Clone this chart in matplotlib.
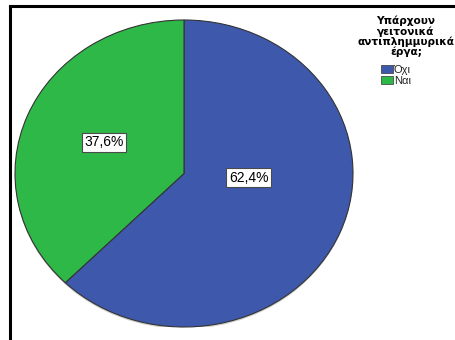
import matplotlib
matplotlib.use("Agg")
import matplotlib.pyplot as plt
from matplotlib.patches import Patch, Ellipse
from matplotlib.lines import Line2D

plt.rcParams['font.family'] = ['Liberation Sans', 'DejaVu Sans']

# Data
categories = ['Όχι', 'Ναι']
shares = [62.4, 37.6]
colors = ['#3E58AC', '#2EB848']
legend_title = 'Υπάρχουν\nγειτονικά\nαντιπλημμυρικά\nέργα;'
label_pos = [(0.382, -0.027), (-0.475, 0.202)]

W, H = 456, 340
fig = plt.figure(figsize=(W / 100, H / 100), dpi=100)

# Pie area stretched into an ellipse
ax = fig.add_axes([15 / W, 1 - 327 / H, 338 / W, 307 / H])

# soft shadow under the pie
ax.add_patch(Ellipse((0.0, -0.012), 2.0, 2.0, facecolor='#b0b0b0', edgecolor='none',
                     alpha=0.6, zorder=0))

wedges, _ = ax.pie(shares, colors=colors, startangle=90, counterclock=False,
                   wedgeprops=dict(edgecolor='#333333', linewidth=0.8))
for w in wedges:
    w.set_zorder(1)
ax.set_aspect('auto')
ax.set_xlim(-1, 1)
ax.set_ylim(-1, 1)
ax.axis('off')

for val, (x, y) in zip(shares, label_pos):
    ax.text(x, y, f'{val:.1f}%'.replace('.', ','), ha='center', va='center',
            fontsize=10, color='black', zorder=3,
            bbox=dict(boxstyle='square,pad=0.18', facecolor='white',
                      edgecolor='#4a4a4a', linewidth=0.8))

# Frame lines (top and left)
fig.add_artist(Line2D([10 / W, 1.0], [1 - 6 / H, 1 - 6 / H], color='black',
                      linewidth=2.2, transform=fig.transFigure))
fig.add_artist(Line2D([10 / W, 10 / W], [0.0, 1 - 6 / H], color='black',
                      linewidth=2.2, transform=fig.transFigure))

# Legend
fig.text(406 / W, 1 - 16 / H, legend_title, ha='center', va='top', fontsize=7.6,
         fontweight='bold', family='DejaVu Sans', linespacing=0.97)
handles = [Patch(facecolor=c, edgecolor='#333333', linewidth=0.5) for c in colors]
fig.legend(handles, categories, loc='upper left', bbox_to_anchor=(381 / W, 1 - 65 / H),
           frameon=False, fontsize=8, handlelength=1.05, handleheight=0.7,
           handletextpad=0.1, labelspacing=0.1, borderpad=0, borderaxespad=0,
           labelcolor='#222222')

fig.savefig('out.png', dpi=100)
